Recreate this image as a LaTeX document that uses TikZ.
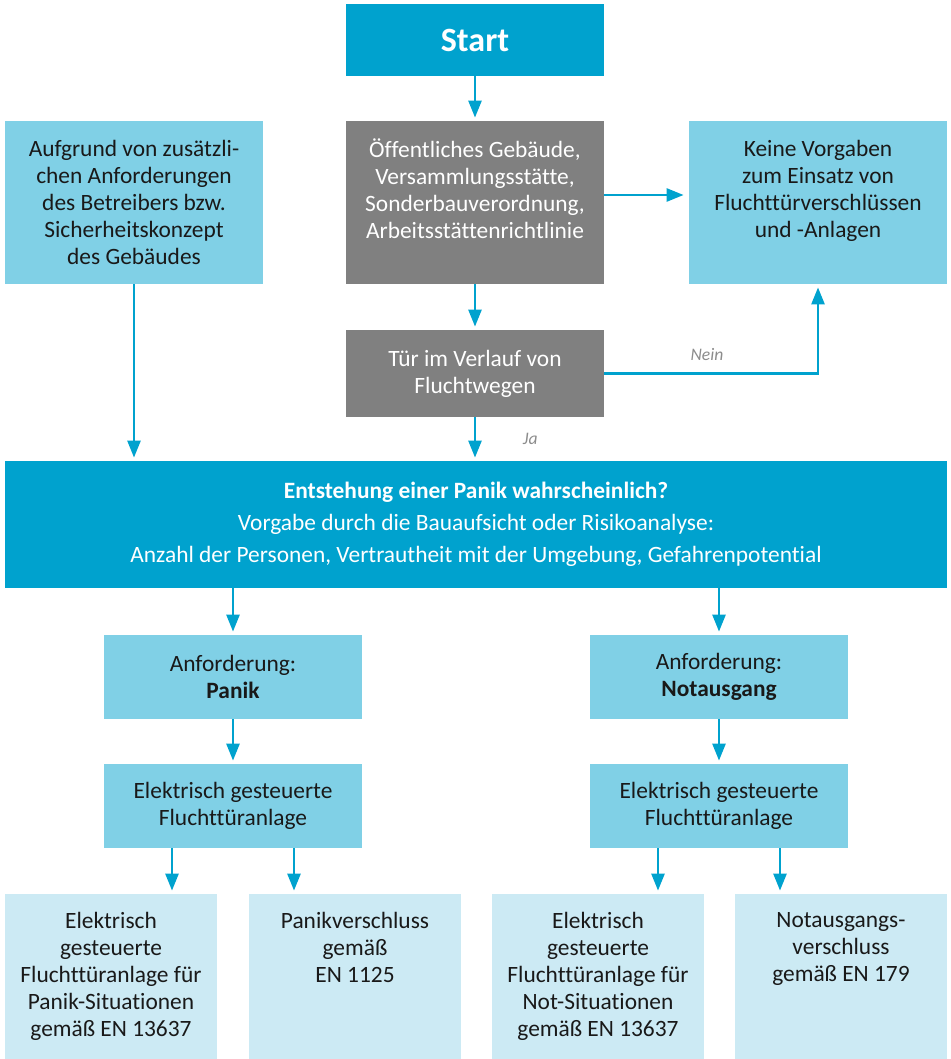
\documentclass[tikz,border=0pt]{standalone}
\usepackage{fontspec}
\setmainfont{Carlito}[Ligatures=NoCommon]
\usetikzlibrary{positioning}
\usetikzlibrary{arrows.meta}

\definecolor{startblue}{HTML}{00A2CE}
\definecolor{boxblue}{HTML}{80D0E6}
\definecolor{paleblue}{HTML}{CCEAF4}
\definecolor{boxgray}{HTML}{808080}
\definecolor{notegray}{HTML}{8C8C8C}

\begin{document}
\begin{tikzpicture}[x=0.5pt,y=-0.5pt,
every node/.style={font=\fontsize{11.7}{13.5}\selectfont, align=center, text=black!90},
box/.style={inner sep=0pt, minimum width=129pt},
startbox/.style={box, fill=startblue, text=white, minimum height=36pt, font=\fontsize{17}{20}\selectfont\bfseries},
graybox/.style={box, fill=boxgray, text=white},
bluebox/.style={box, fill=boxblue},
bigbox/.style={box, fill=startblue, text=white, minimum width=471pt, minimum height=63.5pt, font=\fontsize{11.7}{16}\selectfont},
palebox/.style={box, fill=paleblue, minimum width=106pt, minimum height=82.5pt},
txt/.style={inner sep=0pt},
note/.style={font=\fontsize{8.8}{10}\selectfont\itshape, text=notegray},
link/.style={-{Triangle[width=6.5pt,length=8.5pt]}, draw=startblue, line width=1.3pt, shorten >=1.5pt}]
\useasboundingbox (0,0) rectangle (950,1059);

\node[startbox](start) at (475,40){Start};
\node[graybox, minimum height=81.5pt](public) at (475,202.5){};
\node[txt, text=white, below=9pt of public.north](publictxt){Öffentliches Gebäude,\\Versammlungsstätte,\\Sonderbauverordnung,\\Arbeitsstättenrichtlinie};
\node[bluebox, minimum height=81.5pt](extra) at (134,202.5){Aufgrund von zusätzli-\\chen Anforderungen\\des Betreibers bzw.\\Sicherheitskonzept\\des Gebäudes};
\node[bluebox, minimum height=81.5pt](novalue) at (818,202.5){};
\node[txt, below=9.5pt of novalue.north](novaluetxt){Keine Vorgaben\\zum Einsatz von\\Fluchttürverschlüssen\\und -Anlagen};
\node[graybox, minimum height=43.5pt](door) at (475,373.5){Tür im Verlauf von\\Fluchtwegen};

\node[bigbox](panic) at (476,524.5){\textbf{Entstehung einer Panik wahrscheinlich?}\\Vorgabe durch die Bauaufsicht oder Risikoanalyse:\\Anzahl der Personen, Vertrautheit mit der Umgebung, Gefahrenpotential};

\node[bluebox, minimum height=42pt](reqpanic) at (233,677){Anforderung:\\\textbf{Panik}};
\node[bluebox, minimum height=42pt](reqexit) at (719,677){Anforderung:\\\textbf{Notausgang}};
\node[bluebox, minimum height=42pt](elpanic) at (233,806){Elektrisch gesteuerte\\Fluchttüranlage};
\node[bluebox, minimum height=42pt](elexit) at (719,806){Elektrisch gesteuerte\\Fluchttüranlage};

\node[palebox](doorpanic) at (111,976.5){};
\node[txt, below=9pt of doorpanic.north](doorpanictxt){Elektrisch\\gesteuerte\\Fluchttüranlage für\\Panik-Situationen\\gemäß EN 13637};
\node[palebox](panicbar) at (355,976.5){};
\node[txt, below=9pt of panicbar.north](panicbartxt){Panikverschluss\\gemäß\\EN 1125};
\node[palebox](doorexit) at (598,976.5){};
\node[txt, below=9pt of doorexit.north](doorexittxt){Elektrisch\\gesteuerte\\Fluchttüranlage für\\Not-Situationen\\gemäß EN 13637};
\node[palebox](exitlock) at (841,976.5){};
\node[txt, below=9pt of exitlock.north](exitlocktxt){Notausgangs-\\verschluss\\gemäß EN 179};

\path
(start) edge[link] (public)
([yshift=3.75pt]public.east) edge[link, shorten >=2.5pt] ([yshift=3.75pt]public.east -| novalue.west)
(public) edge[link] (door)
(door) edge[link, to path={-| (\tikztotarget) \tikztonodes}] node[note, pos=0.24, above=2.5pt]{Nein} (novalue)
(door.south) edge[link] node[note, right=20pt]{Ja} (door.south |- panic.north)
(extra) edge[link] (extra |- panic.north)
(reqpanic |- panic.south) edge[link] (reqpanic)
(reqexit |- panic.south) edge[link] (reqexit)
(reqpanic) edge[link] (elpanic)
(reqexit) edge[link] (elexit)
([xshift=-30.5pt]elpanic.south) edge[link] ([xshift=-30.5pt]elpanic.south |- doorpanic.north)
([xshift=30.5pt]elpanic.south) edge[link] ([xshift=30.5pt]elpanic.south |- panicbar.north)
([xshift=-30.5pt]elexit.south) edge[link] ([xshift=-30.5pt]elexit.south |- doorexit.north)
([xshift=30.5pt]elexit.south) edge[link] ([xshift=30.5pt]elexit.south |- exitlock.north);
\end{tikzpicture}
\end{document}
